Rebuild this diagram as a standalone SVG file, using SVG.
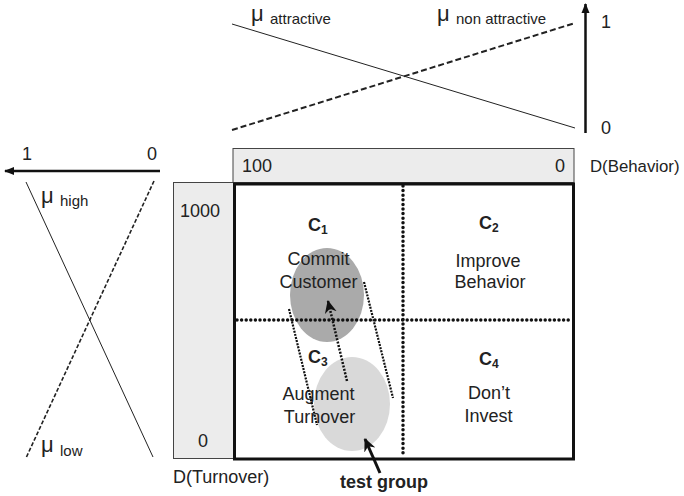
<svg xmlns="http://www.w3.org/2000/svg" width="684" height="496" viewBox="0 0 684 496">
<defs>
<marker id="ah" markerWidth="10" markerHeight="10" refX="9" refY="5" orient="auto" markerUnits="userSpaceOnUse"><path d="M0,1 L10,5 L0,9 Z" fill="#111"/></marker>
<marker id="ah2" markerWidth="14" markerHeight="14" refX="12" refY="7" orient="auto" markerUnits="userSpaceOnUse"><path d="M0,1 L13,7 L0,13 L4,7 Z" fill="#111"/></marker>
</defs>
<style>
text{font-family:"Liberation Sans",Arial,sans-serif;fill:#222}
.t{font-size:18px}
.s{font-size:15px}
.mu{font-size:22px}
.b{font-weight:bold}
.band{fill:#ececec;stroke:#444;stroke-width:1}
.dot{fill:none;stroke:#111;stroke-width:3.5;stroke-linecap:round;stroke-dasharray:0 4.6}
.fdot{fill:none;stroke:#111;stroke-width:2.2;stroke-dasharray:2 1.2}
</style>
<g id="top-membership">
<line x1="232" y1="24" x2="575" y2="128" stroke="#222" stroke-width="1"/>
<line x1="232" y1="130" x2="575" y2="23" stroke="#222" stroke-width="2" stroke-dasharray="6 3"/>
<line x1="585.5" y1="133" x2="585.5" y2="4" stroke="#111" stroke-width="2.5" marker-end="url(#ah)"/>
<text class="t" x="601" y="28">1</text>
<text class="t" x="601" y="134">0</text>
<text class="mu" x="251" y="21">μ</text>
<text class="s" x="270" y="24">attractive</text>
<text class="mu" x="437" y="21">μ</text>
<text class="s" x="456" y="24">non attractive</text>
</g>
<g id="left-membership">
<line x1="160" y1="171" x2="5" y2="171" stroke="#111" stroke-width="2.5" marker-end="url(#ah)"/>
<text class="t" x="22" y="160">1</text>
<text class="t" x="147" y="160">0</text>
<line x1="26" y1="182" x2="153" y2="457" stroke="#222" stroke-width="1"/>
<line x1="154" y1="181" x2="26" y2="458" stroke="#222" stroke-width="1.6" stroke-dasharray="4 2"/>
<text class="mu" x="41" y="203">μ</text>
<text class="s" x="60" y="206">high</text>
<text class="mu" x="41" y="452">μ</text>
<text class="s" x="60" y="456">low</text>
</g>
<g id="behavior-axis">
<rect class="band" x="233" y="148.5" width="341" height="34"/>
<text class="t" x="242" y="172">100</text>
<text class="t" x="555" y="172">0</text>
<text x="590" y="172" font-size="16.8">D(Behavior)</text>
</g>
<g id="turnover-axis">
<rect class="band" x="173.5" y="182.5" width="60" height="276"/>
<text class="t" x="200" y="217" text-anchor="middle">1000</text>
<text class="t" x="203" y="447" text-anchor="middle">0</text>
<text class="t" x="173" y="483">D(Turnover)</text>
</g>
<g id="matrix">
<rect x="234.5" y="184" width="339" height="275" fill="#fff" stroke="#111" stroke-width="3"/>
</g>
<g id="groups">
<ellipse cx="327" cy="295" rx="37" ry="47" fill="#aaaaaa"/>
<ellipse cx="352" cy="404" rx="38" ry="47" fill="#d9d9d9"/>
</g>
<g id="grid">
<line class="dot" x1="403" y1="186" x2="403" y2="457"/>
<line class="dot" x1="237" y1="320" x2="571" y2="320"/>
</g>
<g id="C1">
<text class="t b" x="308" y="231">C<tspan font-size="12" dy="3">1</tspan></text>
<text class="t" x="318.5" y="265" text-anchor="middle">Commit</text>
<text class="t" x="318.5" y="288" text-anchor="middle">Customer</text>
</g>
<g id="C2">
<text class="t b" x="479" y="229">C<tspan font-size="12" dy="3">2</tspan></text>
<text class="t" x="488" y="267" text-anchor="middle">Improve</text>
<text class="t" x="490" y="288" text-anchor="middle">Behavior</text>
</g>
<g id="C3">
<text class="t b" x="308" y="363">C<tspan font-size="12" dy="3">3</tspan></text>
<text class="t" x="318.5" y="400" text-anchor="middle">Augment</text>
<text class="t" x="319.5" y="423" text-anchor="middle">Turnover</text>
</g>
<g id="C4">
<text class="t b" x="479" y="365">C<tspan font-size="12" dy="3">4</tspan></text>
<text class="t" x="489" y="399" text-anchor="middle">Don’t</text>
<text class="t" x="488.5" y="422" text-anchor="middle">Invest</text>
</g>
<g id="connectors">
<line class="fdot" x1="289" y1="309" x2="317" y2="425"/>
<line class="fdot" x1="364" y1="282" x2="393" y2="398"/>
<line x1="347" y1="381" x2="328" y2="301" stroke="#111" stroke-width="2.5" stroke-dasharray="2 1.5" marker-end="url(#ah2)"/>
<line x1="380" y1="473" x2="365" y2="439" stroke="#111" stroke-width="3" marker-end="url(#ah2)"/>
</g>
<g id="test-group">
<text class="t b" x="340" y="488">test group</text>
</g>
</svg>
